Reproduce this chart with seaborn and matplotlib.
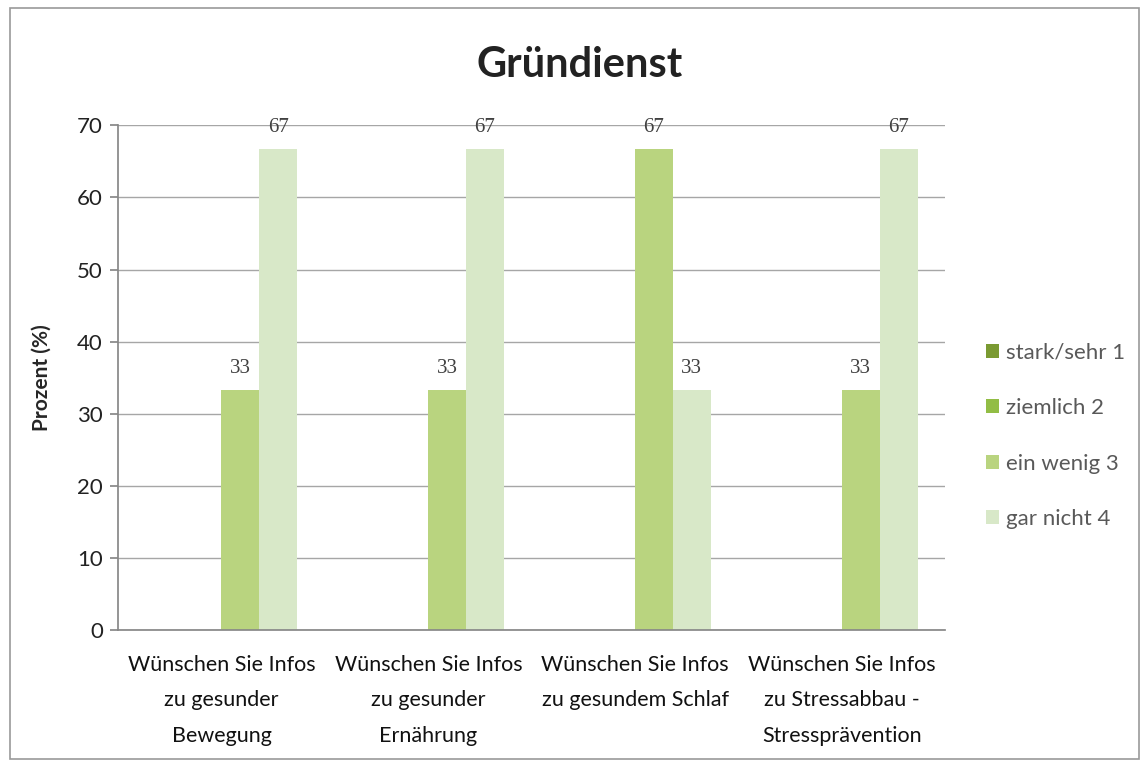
import matplotlib
matplotlib.use("Agg")
import matplotlib.pyplot as plt
import matplotlib.patches as patches
import seaborn as sns
import pandas as pd

# data
categories = [
    "Wünschen Sie Infos\nzu gesunder\nBewegung",
    "Wünschen Sie Infos\nzu gesunder\nErnährung",
    "Wünschen Sie Infos\nzu gesundem Schlaf",
    "Wünschen Sie Infos\nzu Stressabbau -\nStressprävention",
]
series = ["stark/sehr 1", "ziemlich 2", "ein wenig 3", "gar nicht 4"]
stark = [0, 0, 0, 0]
ziemlich = [0, 0, 0, 0]
ein_wenig = [33.3, 33.3, 66.7, 33.3]
gar_nicht = [66.7, 66.7, 33.3, 66.7]
colors = ["#7a9a32", "#92bd45", "#b9d47f", "#d8e8c8"]

sns.set_theme(style="white")
plt.rcParams["font.family"] = ["Lato", "DejaVu Sans"]

rows = []
for vals, name in zip([stark, ziemlich, ein_wenig, gar_nicht], series):
    for cat, v in zip(categories, vals):
        rows.append({"Kategorie": cat, "Antwort": name, "Prozent": v})
df = pd.DataFrame(rows)

fig = plt.figure(figsize=(11.46, 7.64), dpi=100)
ax = fig.add_axes([0.103, 0.175, 0.722, 0.661])

sns.barplot(data=df, x="Kategorie", y="Prozent", hue="Antwort",
            hue_order=series, palette=colors, width=0.73,
            saturation=1, linewidth=0, ax=ax, legend=True)

for cont in ax.containers:
    labels = [f"{v:.0f}" if v > 0 else "" for v in cont.datavalues]
    ax.bar_label(cont, labels=labels, padding=9, fontsize=15,
                 color="#404040", family="Liberation Serif")

ax.set_ylim(0, 70)
ax.set_yticks(range(0, 71, 10))
ax.yaxis.grid(True, color="#a6a6a6", linewidth=1)
ax.set_axisbelow(True)
for s in ["top", "right"]:
    ax.spines[s].set_visible(False)
ax.spines["left"].set_color("#888888")
ax.spines["bottom"].set_color("#888888")
ax.tick_params(axis="y", left=True, length=6, color="#888888",
               labelsize=16, labelcolor="#222222", pad=5)
ax.tick_params(axis="x", bottom=False, labelsize=15.5, labelcolor="#111111", pad=12)
for lab in ax.get_xticklabels():
    lab.set_linespacing(1.95)
ax.set_xlabel("")
ax.set_ylabel("Prozent (%)", fontsize=15, fontweight="bold", labelpad=18)

ax.legend(loc="center left", bbox_to_anchor=(1.025, 0.385), frameon=False,
          fontsize=16, labelcolor="#595959", labelspacing=1.6,
          handlelength=0.6, handleheight=0.6, handletextpad=0.3)

fig.suptitle("Gründienst", x=0.506, y=0.94, fontsize=30, fontweight="bold",
             color="#222222")

fig.patches.append(patches.Rectangle((0.009, 0.007), 0.985, 0.982,
                                     transform=fig.transFigure, fill=False,
                                     edgecolor="#999999", linewidth=1.2))

fig.savefig("out.png", dpi=100)
